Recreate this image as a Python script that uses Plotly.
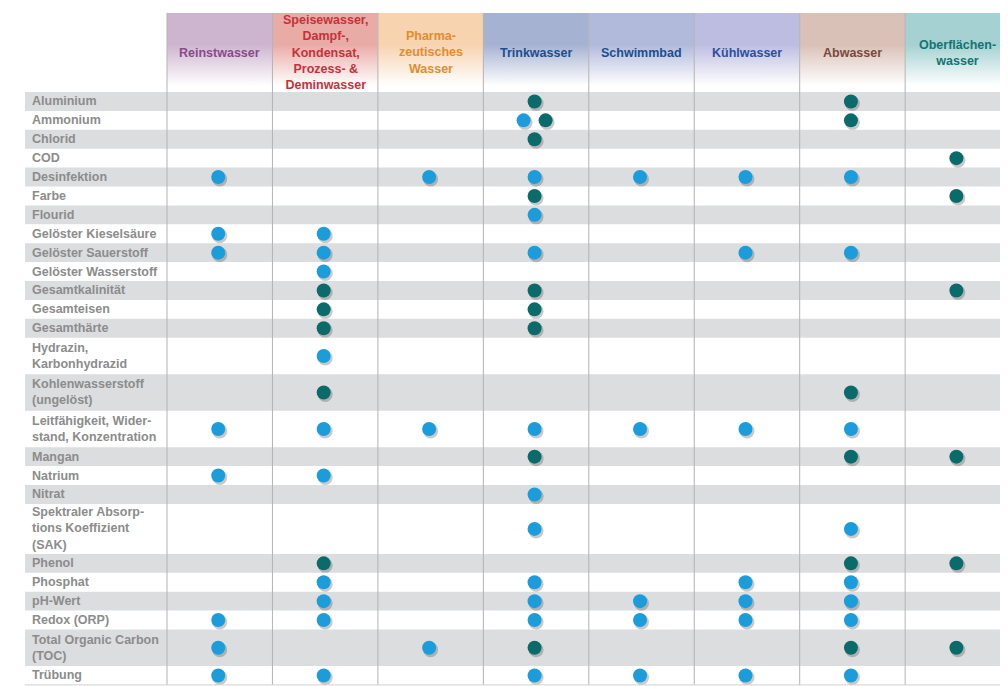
import plotly.graph_objects as go

# Anwendungen (Spalten) mit Kopf- und Schriftfarbe
anwendungen = [
    "Reinstwasser",
    "Speisewasser,<br>Dampf-,<br>Kondensat,<br>Prozess- &<br>Deminwasser",
    "Pharma-<br>zeutisches<br>Wasser",
    "Trinkwasser",
    "Schwimmbad",
    "Kühlwasser",
    "Abwasser",
    "Oberflächen-<br>wasser",
]
kopf_farben = ["#cdb5cf", "#e9aba6", "#f7d3b0", "#a6b2d2", "#b1badb", "#bdbde2", "#d9c1b7", "#a5d1d2"]
text_farben = ["#8a4a8c", "#c7313b", "#e38d2c", "#1d4e8f", "#1d4e8f", "#2e4f9e", "#7a4a3b", "#137474"]

parameter = [
    "Aluminium",
    "Ammonium",
    "Chlorid",
    "COD",
    "Desinfektion",
    "Farbe",
    "Flourid",
    "Gelöster Kieselsäure",
    "Gelöster Sauerstoff",
    "Gelöster Wasserstoff",
    "Gesamtkalinität",
    "Gesamteisen",
    "Gesamthärte",
    "Hydrazin,<br>Karbonhydrazid",
    "Kohlenwasserstoff<br>(ungelöst)",
    "Leitfähigkeit, Wider-<br>stand, Konzentration",
    "Mangan",
    "Natrium",
    "Nitrat",
    "Spektraler Absorp-<br>tions Koeffizient<br>(SAK)",
    "Phenol",
    "Phosphat",
    "pH-Wert",
    "Redox (ORP)",
    "Total Organic Carbon<br>(TOC)",
    "Trübung",
]

# je Parameter ein Zeichen pro Anwendung:
# "b" = hellblauer Punkt, "g" = petrolfarbener Punkt, "x" = beide, "." = keiner
belegung = [
    "...g..g.",
    "...x..g.",
    "...g....",
    ".......g",
    "b.bbbbb.",
    "...g...g",
    "...b....",
    "bb......",
    "bb.b.bb.",
    ".b......",
    ".g.g...g",
    ".g.g....",
    ".g.g....",
    ".b......",
    ".g....g.",
    "bbbbbbb.",
    "...g..gg",
    "bb......",
    "...b....",
    "...b..b.",
    ".g....gg",
    ".b.b.bb.",
    ".b.bbbb.",
    "bb.bbbb.",
    "b.bg..gg",
    "bb.bbbb.",
]

BLAU = "#1b9ddb"
PETROL = "#0b6a6a"
SCHRIFT = "Liberation Sans, Arial, sans-serif"

# Geometrie in Seitenpixeln (die Seite hat 8 px Rand)
W, H = 1008, 686
RAND = 8
TAB_LINKS = 167
SPALTE = 105.45
KOPF_OBEN, KOPF_UNTEN = 13, 92
ZEILE = {1: 18.9, 2: 36.5, 3: 50.0}


def px_x(p):
    return (p - TAB_LINKS) / SPALTE - 0.5


# Zeilenpositionen aus der Zeilenzahl der Beschriftung
zeilen_mitte, zeilen_oben, zeilen_unten = [], [], []
y = KOPF_UNTEN
for p in parameter:
    h = ZEILE[p.count("<br>") + 1]
    zeilen_oben.append(y)
    zeilen_mitte.append(y + h / 2)
    zeilen_unten.append(y + h)
    y += h
tab_unten = y

fig = go.Figure()
shapes = []
annotations = []

# Kopfzellen mit Verlauf
for i, farbe in enumerate(kopf_farben):
    fig.add_trace(go.Scatter(
        x=[i - 0.5, i + 0.5, i + 0.5, i - 0.5, i - 0.5],
        y=[KOPF_OBEN, KOPF_OBEN, KOPF_UNTEN, KOPF_UNTEN, KOPF_OBEN],
        mode="lines", line=dict(width=0), fill="toself",
        fillgradient=dict(type="vertical", start=KOPF_OBEN, stop=KOPF_UNTEN,
                          colorscale=[[0, farbe], [0.4, farbe], [0.92, "white"], [1, "white"]]),
        hoverinfo="skip", showlegend=False,
    ))
    annotations.append(dict(
        x=i, y=(KOPF_OBEN + KOPF_UNTEN) / 2, xref="x", yref="y",
        text=anwendungen[i], showarrow=False, align="center",
        font=dict(size=12.5, color=text_farben[i], family=SCHRIFT, weight=700),
    ))

# graue Zeilenbänder
for k in range(0, len(parameter), 2):
    shapes.append(dict(
        type="rect", xref="x", yref="y", layer="below",
        x0=px_x(25), x1=px_x(W + 10), y0=zeilen_oben[k], y1=zeilen_unten[k],
        fillcolor="#dcdddf", line=dict(width=0),
    ))

# Spaltentrenner
for i in range(len(anwendungen) + 1):
    shapes.append(dict(
        type="line", xref="x", yref="y", layer="above",
        x0=i - 0.5, x1=i - 0.5, y0=KOPF_OBEN, y1=tab_unten,
        line=dict(color="#b3b3b3", width=1),
    ))
shapes.append(dict(
    type="line", xref="x", yref="y", x0=px_x(25), x1=px_x(W + 10),
    y0=tab_unten, y1=tab_unten, line=dict(color="#d0d0d0", width=1),
))

# Parameterbeschriftung
for k, p in enumerate(parameter):
    annotations.append(dict(
        x=px_x(30), y=zeilen_mitte[k], xref="x", yref="y",
        text=p, showarrow=False, xanchor="left", align="left",
        font=dict(size=12.5, color="#8c8c8c", family=SCHRIFT, weight=700),
    ))

# Punkte sammeln (leicht links der Spaltenmitte wie im Original)
blau_x, blau_y, petrol_x, petrol_y = [], [], [], []
versatz = 11 / SPALTE
links = -1.5 / SPALTE
for k, reihe in enumerate(belegung):
    for i, c in enumerate(reihe):
        xm = i + links
        if c == "b":
            blau_x.append(xm); blau_y.append(zeilen_mitte[k])
        elif c == "g":
            petrol_x.append(xm); petrol_y.append(zeilen_mitte[k])
        elif c == "x":
            blau_x.append(xm - versatz); blau_y.append(zeilen_mitte[k])
            petrol_x.append(xm + versatz); petrol_y.append(zeilen_mitte[k])

# Schatten
dx = 1.5 / SPALTE
fig.add_trace(go.Scatter(
    x=[v + dx for v in blau_x + petrol_x], y=[v + 2 for v in blau_y + petrol_y],
    mode="markers", marker=dict(size=15, color="rgba(60,60,60,0.28)", line=dict(width=0)),
    hoverinfo="skip", showlegend=False,
))
fig.add_trace(go.Scatter(
    x=blau_x, y=blau_y, mode="markers", name="hellblau",
    marker=dict(size=14, color=BLAU, line=dict(width=0)), showlegend=False,
))
fig.add_trace(go.Scatter(
    x=petrol_x, y=petrol_y, mode="markers", name="petrol",
    marker=dict(size=14, color=PETROL, line=dict(width=0)), showlegend=False,
))

fig.update_layout(
    width=W - RAND, height=H - RAND,
    margin=dict(l=0, r=0, t=0, b=0),
    paper_bgcolor="white", plot_bgcolor="white",
    xaxis=dict(range=[px_x(RAND), px_x(W)], visible=False, fixedrange=True),
    yaxis=dict(range=[H, RAND], visible=False, fixedrange=True),
    shapes=shapes, annotations=annotations,
)

fig.write_html("out.html")
